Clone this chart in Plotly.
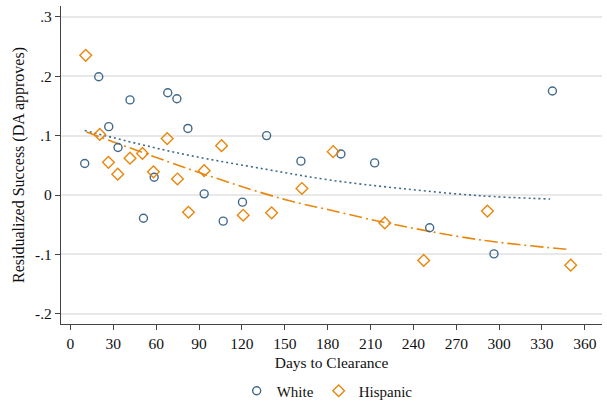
import plotly.graph_objects as go

# Binned scatter values
white_x = [10.0, 19.8, 26.8, 33.3, 41.7, 51.1, 58.6, 68.1, 74.5, 82.2,
           93.6, 106.9, 120.4, 137.3, 161.3, 189.3, 212.9, 251.4, 296.4, 337.3]
white_y = [0.053, 0.199, 0.115, 0.080, 0.160, -0.039, 0.030, 0.172, 0.162, 0.112,
           0.002, -0.044, -0.012, 0.100, 0.057, 0.069, 0.054, -0.055, -0.099, 0.175]

hisp_x = [10.7, 20.5, 26.6, 33.1, 41.7, 50.4, 58.1, 67.7, 74.9, 82.6,
          93.6, 105.8, 120.9, 140.8, 162.0, 183.9, 220.0, 247.2, 291.8, 350.1]
hisp_y = [0.235, 0.102, 0.055, 0.035, 0.062, 0.070, 0.039, 0.095, 0.027, -0.029,
          0.041, 0.083, -0.034, -0.030, 0.011, 0.073, -0.047, -0.110, -0.027, -0.118]

# Fitted (quadratic) lines
white_fit_x = [10.0, 76.6, 137.3, 181.6, 230.6, 286.7, 335.7]
white_fit_y = [0.1086, 0.0700, 0.0431, 0.0252, 0.0112, -0.0012, -0.0067]

hisp_fit_x = [11.2, 90.6, 151.3, 181.6, 219.0, 286.7, 349.9]
hisp_fit_y = [0.1062, 0.0374, -0.0084, -0.0252, -0.0458, -0.0755, -0.0918]

x_ticks = [0, 30, 60, 90, 120, 150, 180, 210, 240, 270, 300, 330, 360]
y_ticks = [-0.2, -0.1, 0, 0.1, 0.2, 0.3]
y_tick_labels = ["-.2", "-.1", "0", ".1", ".2", ".3"]

WHITE_C = "#41698a"
HISP_C = "#e8870e"
FONT = "Liberation Serif"
FS = 15.5

fig = go.Figure()

fig.add_trace(go.Scatter(x=white_fit_x, y=white_fit_y, mode="lines", showlegend=False,
                         line=dict(color=WHITE_C, width=1.6, dash="2px,3px", shape="spline")))
fig.add_trace(go.Scatter(x=hisp_fit_x, y=hisp_fit_y, mode="lines", showlegend=False,
                         line=dict(color=HISP_C, width=1.6, dash="13px,4px,2px,4px",
                                   shape="spline")))

fig.add_trace(go.Scatter(x=white_x, y=white_y, mode="markers", name="White",
                         marker=dict(symbol="circle-open", size=8, color=WHITE_C,
                                     line=dict(width=1.4, color=WHITE_C))))
fig.add_trace(go.Scatter(x=hisp_x, y=hisp_y, mode="markers", name="Hispanic",
                         marker=dict(symbol="diamond-open", size=9, color=HISP_C,
                                     line=dict(width=1.4, color=HISP_C))))

fig.update_layout(
    width=607, height=403,
    margin=dict(l=61, r=5, t=6, b=79),
    paper_bgcolor="white", plot_bgcolor="white",
    font=dict(family=FONT, size=FS, color="#111"),
    legend=dict(orientation="h", x=0.492, xanchor="center",
                yref="container", y=12 / 403, yanchor="middle",
                font=dict(family=FONT, size=15), itemsizing="trace",
                traceorder="normal"),
    xaxis=dict(range=[-6.6, 372], tickvals=x_ticks, showgrid=False, zeroline=False,
               showline=True, linecolor="#444", linewidth=1.2, automargin=False,
               ticks="outside", ticklen=5, tickcolor="#444",
               tickfont=dict(family=FONT, size=FS),
               title=dict(text="Days to Clearance", font=dict(family=FONT, size=FS), standoff=6)),
    yaxis=dict(range=[-0.217, 0.318], tickvals=y_ticks, ticktext=y_tick_labels,
               showgrid=True, gridcolor="#e8e8e8", gridwidth=1.5, zeroline=False,
               showline=True, linecolor="#444", linewidth=1.2, automargin=False,
               ticks="outside", ticklen=5, tickcolor="#444",
               tickfont=dict(family=FONT, size=FS),
               title=dict(text="Residualized Success (DA approves)",
                          font=dict(family=FONT, size=16), standoff=6)),
)

fig.write_html("out.html", config={"displayModeBar": False},
               post_script="document.body.style.margin='0';document.body.style.padding='0';")
